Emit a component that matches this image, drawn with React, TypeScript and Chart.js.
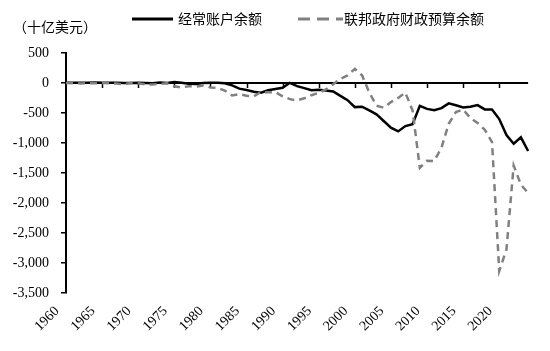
import React, { useEffect, useRef } from "react";
import { Chart, registerables } from "chart.js";

Chart.register(...registerables);

const years = [
  "1960", "1961", "1962", "1963", "1964", "1965", "1966", "1967", "1968", "1969",
  "1970", "1971", "1972", "1973", "1974", "1975", "1976", "1977", "1978", "1979",
  "1980", "1981", "1982", "1983", "1984", "1985", "1986", "1987", "1988", "1989",
  "1990", "1991", "1992", "1993", "1994", "1995", "1996", "1997", "1998", "1999",
  "2000", "2001", "2002", "2003", "2004", "2005", "2006", "2007", "2008", "2009",
  "2010", "2011", "2012", "2013", "2014", "2015", "2016", "2017", "2018", "2019",
  "2020", "2021", "2022", "2023", "2024",
];

const xTickLabels = [
  "1960", "1965", "1970", "1975", "1980", "1985", "1990",
  "1995", "2000", "2005", "2010", "2015", "2020",
];

const currentAccount = [
  2.8, 3.8, 3.4, 4.4, 6.8, 5.4, 3.0, 2.6, 0.6, 0.4,
  2.3, -1.4, -5.8, 7.1, 2.0, 18.1, 4.3, -14.3, -15.1, -0.3,
  2.3, 5.0, -5.5, -38.7, -94.3, -118.2, -147.2, -160.7, -121.2, -99.5,
  -79.0, 2.9, -51.6, -84.8, -121.6, -113.6, -124.8, -140.7, -215.1, -286.6,
  -401.9, -394.1, -456.1, -522.3, -633.8, -745.4, -806.7, -718.6, -686.4, -380.8,
  -432.0, -455.3, -418.2, -339.5, -370.0, -408.5, -396.2, -367.6, -439.9, -441.8,
  -601.3, -868.0, -1012.1, -905.4, -1133.6,
];

const federalBudget = [
  0.3, -3.3, -7.1, -4.8, -5.9, -1.4, -3.7, -8.6, -25.2, 3.2,
  -2.8, -23.0, -23.4, -14.9, -6.1, -53.2, -73.7, -53.7, -59.2, -40.7,
  -73.8, -79.0, -128.0, -207.8, -185.4, -212.3, -221.2, -149.7, -155.2, -152.6,
  -221.0, -269.2, -290.3, -255.1, -203.2, -164.0, -107.4, -21.9, 69.3, 125.6,
  236.2, 128.2, -157.8, -377.6, -412.7, -318.3, -248.2, -160.7, -458.6, -1412.7,
  -1294.4, -1299.6, -1076.6, -679.8, -484.6, -442.0, -584.7, -665.4, -779.1, -983.6,
  -3132.5, -2775.3, -1375.9, -1695.0, -1833.0,
];

const seriesNames = ["经常账户余额", "联邦政府财政预算余额"];
const unitLabel = "（十亿美元）";

const cjkFont = '14px "Noto Sans CJK SC", "Noto Sans", sans-serif';
const serifFamily = '"Liberation Serif", serif';

const zeroLinePlugin = {
  id: "zeroLine",
  beforeDatasetsDraw(chart: any) {
    const { ctx, chartArea, scales } = chart;
    const x = scales.x;
    const y = scales.y;
    const y0 = y.getPixelForValue(0);
    ctx.save();
    ctx.strokeStyle = "#000";
    ctx.lineWidth = 2;
    ctx.beginPath();
    ctx.moveTo(chartArea.left, y0);
    ctx.lineTo(chartArea.right, y0);
    ctx.stroke();
    ctx.lineWidth = 1.5;
    ctx.beginPath();
    xTickLabels.forEach((lab) => {
      const idx = years.indexOf(lab);
      if (idx > 0) {
        const px = Math.round(x.getPixelForValue(idx)) + 0.5;
        ctx.moveTo(px, y0);
        ctx.lineTo(px, y0 + 5);
      }
    });
    ctx.stroke();
    ctx.restore();
  },
};

const legendPlugin = {
  id: "customLegend",
  afterDraw(chart: any) {
    const { ctx } = chart;
    ctx.save();
    ctx.font = cjkFont;
    ctx.fillStyle = "#000";
    ctx.textBaseline = "middle";
    ctx.textAlign = "left";
    ctx.fillText(unitLabel, 13, 27);

    ctx.strokeStyle = "#000";
    ctx.lineWidth = 3;
    ctx.beginPath();
    ctx.moveTo(132, 19);
    ctx.lineTo(173, 19);
    ctx.stroke();
    ctx.fillText(seriesNames[0], 178, 19);

    ctx.strokeStyle = "#808080";
    ctx.lineWidth = 3;
    ctx.setLineDash([12, 7]);
    ctx.beginPath();
    ctx.moveTo(298, 19);
    ctx.lineTo(343, 19);
    ctx.stroke();
    ctx.setLineDash([]);
    ctx.fillText(seriesNames[1], 344, 19);
    ctx.restore();
  },
};

export default function App() {
  const canvasRef = useRef<HTMLCanvasElement | null>(null);

  useEffect(() => {
    const canvas = canvasRef.current;
    if (!canvas) return;
    const chart = new Chart(canvas, {
      type: "line",
      data: {
        labels: years,
        datasets: [
          {
            label: seriesNames[0],
            data: currentAccount,
            borderColor: "#000000",
            borderWidth: 2.5,
            pointRadius: 0,
            tension: 0,
            fill: false,
            order: 2,
          },
          {
            label: seriesNames[1],
            data: federalBudget,
            borderColor: "#808080",
            borderWidth: 2.5,
            borderDash: [7, 5],
            pointRadius: 0,
            tension: 0,
            fill: false,
            order: 1,
          },
        ],
      },
      options: {
        responsive: false,
        animation: false,
        font: { family: serifFamily, size: 14 },
        layout: { padding: { left: 0, right: 12, top: 53, bottom: 0 } },
        plugins: {
          legend: { display: false },
          tooltip: { enabled: false },
          title: { display: false },
        },
        scales: {
          x: {
            type: "category",
            offset: false,
            grid: { display: false, drawTicks: false },
            border: { display: false },
            ticks: {
              autoSkip: false,
              maxRotation: 45,
              minRotation: 45,
              padding: 10,
              labelOffset: -9,
              color: "#000",
              font: { family: serifFamily, size: 14 },
              callback: (_v: any, i: number) =>
                xTickLabels.includes(years[i]) ? years[i] : "",
            },
            afterFit: (scale: any) => {
              scale.height = 58;
            },
          },
          y: {
            min: -3500,
            max: 500,
            ticks: {
              stepSize: 500,
              padding: 12,
              color: "#000",
              font: { family: serifFamily, size: 14 },
              callback: (v: any) => Number(v).toLocaleString("en-US"),
            },
            grid: {
              drawOnChartArea: false,
              drawTicks: true,
              tickLength: 5,
              color: "#000",
              lineWidth: 1.5,
            },
            border: { display: true, color: "#000", width: 2 },
            afterFit: (scale: any) => {
              scale.width = 66;
            },
          },
        },
      },
      plugins: [zeroLinePlugin, legendPlugin],
    } as any);
    return () => chart.destroy();
  }, []);

  return (
    <div style={{ position: "fixed", left: 0, top: 0, width: 550, height: 351, background: "#fff" }}>
      <canvas ref={canvasRef} width={550} height={351} />
    </div>
  );
}
